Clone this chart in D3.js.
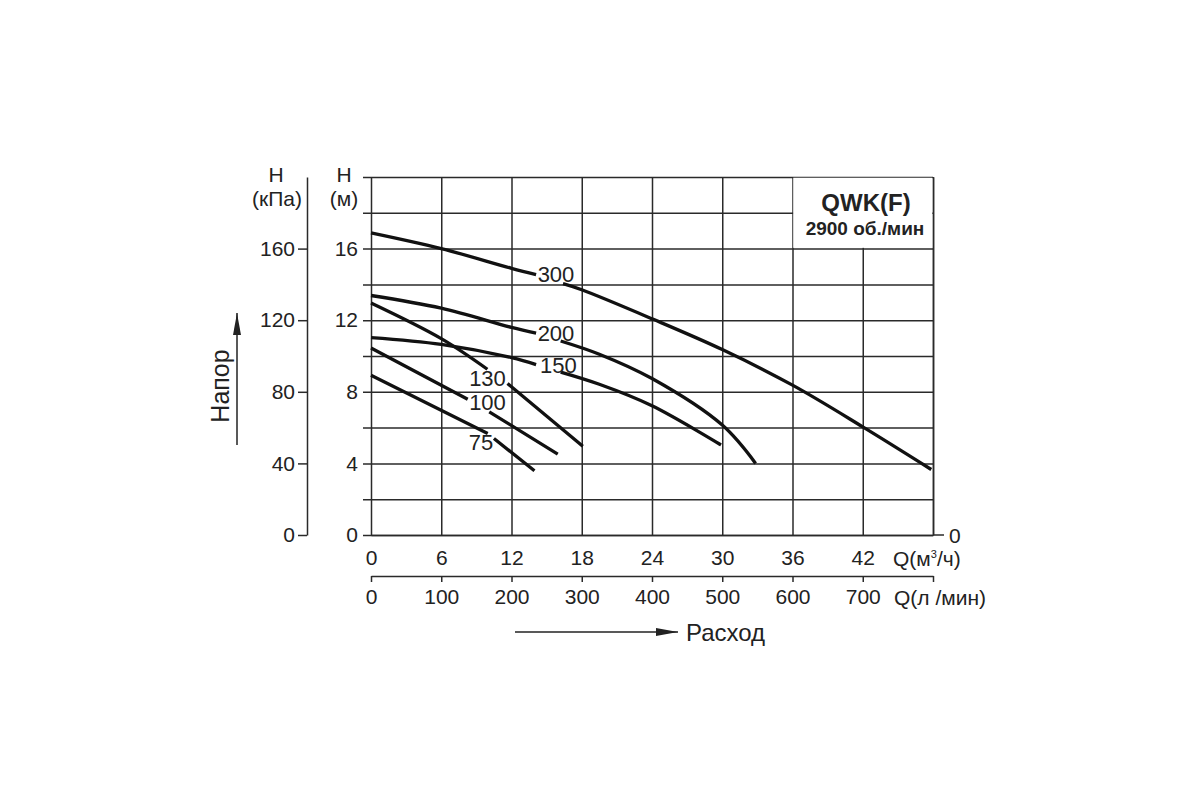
<!DOCTYPE html>
<html>
<head>
<meta charset="utf-8">
<script src="https://cdn.jsdelivr.net/npm/d3@7"></script>
<style>
  body { margin: 0; background: #fff; }
  svg text { font-family: "Liberation Sans", Arial, sans-serif; fill: #222; }
</style>
</head>
<body>
<div class="chart"></div>
<script>
// --- Data ---
const curveNames = ["300", "200", "150", "130", "100", "75"];
// flow Q (m3/h) and head H (m); null = gap where the label sits
const q300 = [0, 6, 12, 14.1, null, 16.4, 18, 24, 30, 36, 42, 47.85];
const h300 = [16.88, 16.0, 14.9, 14.55, null, 14.04, 13.7, 12.08, 10.36, 8.37, 6.04, 3.66];
const q200 = [0, 6, 12, 14.1, null, 16.2, 19.5, 24, 30, 32.85];
const h200 = [13.38, 12.67, 11.6, 11.28, null, 10.84, 10.1, 8.74, 6.14, 4.0];
const q150 = [0, 6, 12, 14.1, null, 16.2, 19.5, 24, 29.9];
const h150 = [11.03, 10.65, 9.91, 9.52, null, 9.1, 8.42, 7.22, 5.03];
const q130 = [0, 6, 9.94, null, 11.66, 18.09];
const h130 = [12.96, 10.97, 9.26, null, 8.46, 4.96];
const q100 = [0, 8.26, null, 10.1, 15.95];
const h100 = [10.45, 7.58, null, 6.88, 4.52];
const q75 = [0, 9.97, null, 10.5, 13.96];
const h75 = [8.92, 5.67, null, 5.39, 3.59];
const labelQ = [15.8, 15.8, 16.0, 9.95, 9.95, 9.4];
const labelH = [14.58, 11.3, 9.5, 8.75, 7.4, 5.2];

// tick values
const flowTicks = [0, 6, 12, 18, 24, 30, 36, 42, 48];
const litreTicks = [0, 100, 200, 300, 400, 500, 600, 700, 800];
const headTicks = [0, 2, 4, 6, 8, 10, 12, 14, 16, 18, 20];
const kpaTicks = [0, 40, 80, 120, 160];

const curves = [[q300, h300], [q200, h200], [q150, h150], [q130, h130], [q100, h100], [q75, h75]];

// --- SVG ---
const svg = d3.select(".chart").append("svg")
    .attr("width", 1200).attr("height", 800);

// --- Scales ---
const x = d3.scaleLinear().domain([0, 48]).range([371, 933]);
const xl = d3.scaleLinear().domain([0, 800]).range([371, 933]);
const y = d3.scaleLinear().domain([0, 20]).range([535, 177]);
const yk = d3.scaleLinear().domain([0, 200]).range([535, 177]);

const gridColor = "#2a2a2a";

// --- horizontal grid + metre labels (axis sits on the right border) ---
const yAxis = svg.append("g")
    .attr("transform", "translate(933,0)")
    .call(d3.axisLeft(y)
        .tickValues(headTicks)
        .tickSize(570)
        .tickSizeOuter(0)
        .tickPadding(5)
        .tickFormat(d => d % 4 === 0 && d <= 16 ? d : ""));
yAxis.selectAll("line, path").attr("stroke", gridColor).attr("stroke-width", 1.5);
yAxis.selectAll("text").style("font-size", "21px").attr("fill", "#222");

// --- vertical grid + m3/h labels ---
const xAxis = svg.append("g")
    .attr("transform", "translate(0,535)")
    .call(d3.axisBottom(x)
        .tickValues(flowTicks)
        .tickSize(-358)
        .tickSizeOuter(0)
        .tickPadding(15)
        .tickFormat(d => d === 48 ? "" : d));
xAxis.selectAll("line, path").attr("stroke", gridColor).attr("stroke-width", 1.5);
xAxis.selectAll("text").style("font-size", "21px").attr("fill", "#222");

// right "0" tick
svg.append("line")
    .attr("x1", x(48)).attr("x2", x(48) + 11)
    .attr("y1", y(0)).attr("y2", y(0))
    .attr("stroke", gridColor).attr("stroke-width", 1.5);
svg.append("text")
    .attr("x", 949).attr("y", y(0) + 7.5)
    .style("font-size", "21px").text("0");

// --- l/min axis ---
const lAxis = svg.append("g")
    .attr("transform", "translate(0,576)")
    .call(d3.axisBottom(xl)
        .tickValues(litreTicks)
        .tickSize(6)
        .tickSizeOuter(0)
        .tickPadding(7)
        .tickFormat(d => d === 800 ? "" : d));
lAxis.selectAll("line, path").attr("stroke", gridColor).attr("stroke-width", 1.5);
lAxis.selectAll("text").style("font-size", "21px").attr("fill", "#222");

// --- kPa axis ---
const kAxis = svg.append("g")
    .attr("transform", "translate(307,0)")
    .call(d3.axisLeft(yk)
        .tickValues(kpaTicks)
        .tickSize(9)
        .tickSizeOuter(0)
        .tickPadding(3));
kAxis.selectAll("line, path").attr("stroke", gridColor).attr("stroke-width", 1.5);
kAxis.selectAll("text").style("font-size", "21px").attr("fill", "#222");

// --- title box (covers grid inside) ---
svg.append("rect")
    .attr("x", x(36) + 0.75).attr("y", y(20) + 0.75)
    .attr("width", x(48) - x(36) - 1.5).attr("height", y(16) - y(20) - 1.5)
    .attr("fill", "#fff");
svg.append("text")
    .attr("x", 866).attr("y", 211)
    .attr("text-anchor", "middle")
    .style("font-size", "24px").style("font-weight", "bold")
    .text("QWK(F)");
svg.append("text")
    .attr("x", 865).attr("y", 235)
    .attr("text-anchor", "middle")
    .style("font-size", "19px").style("font-weight", "bold")
    .text("2900 об./мин");

// --- pump curves ---
const line = d3.line()
    .defined(d => d[0] !== null)
    .x(d => x(d[0]))
    .y(d => y(d[1]))
    .curve(d3.curveCatmullRom.alpha(0.5));

svg.selectAll("path.curve")
    .data(curves)
    .join("path")
    .attr("class", "curve")
    .attr("d", c => line(c[0].map((q, i) => [q, c[1][i]])))
    .attr("fill", "none")
    .attr("stroke", "#111")
    .attr("stroke-width", 3.3)
    .attr("stroke-linecap", "butt");

svg.selectAll("text.curve-label")
    .data(curveNames)
    .join("text")
    .attr("class", "curve-label")
    .attr("x", (d, i) => x(labelQ[i]))
    .attr("y", (d, i) => y(labelH[i]))
    .attr("dy", "0.36em")
    .attr("text-anchor", "middle")
    .style("font-size", "22px")
    .text(d => d);

// --- axis captions ---
svg.append("text").attr("x", 276).attr("y", 182).attr("text-anchor", "middle")
    .style("font-size", "21px").text("H");
svg.append("text").attr("x", 277).attr("y", 206).attr("text-anchor", "middle")
    .style("font-size", "21px").text("(кПа)");
svg.append("text").attr("x", 344).attr("y", 182).attr("text-anchor", "middle")
    .style("font-size", "21px").text("H");
svg.append("text").attr("x", 344).attr("y", 206).attr("text-anchor", "middle")
    .style("font-size", "21px").text("(м)");

const qm = svg.append("text").attr("x", 893).attr("y", 566)
    .style("font-size", "21px");
qm.append("tspan").text("Q(м");
qm.append("tspan").attr("dy", -8).style("font-size", "11px").text("3");
qm.append("tspan").attr("dy", 8).text("/ч)");

svg.append("text").attr("x", 894).attr("y", 605)
    .style("font-size", "21px").text("Q(л /мин)");

// --- Напор / Расход arrows ---
const defs = svg.append("defs");
defs.append("marker")
    .attr("id", "arrowH")
    .attr("viewBox", "0 0 22 10")
    .attr("refX", 22).attr("refY", 5)
    .attr("markerWidth", 22).attr("markerHeight", 10)
    .attr("markerUnits", "userSpaceOnUse")
    .attr("orient", "auto")
    .append("path").attr("d", "M0,1 L22,5 L0,9 Z").attr("fill", "#222");

svg.append("line")
    .attr("x1", 237).attr("y1", 445).attr("x2", 237).attr("y2", 313)
    .attr("stroke", "#222").attr("stroke-width", 1.5)
    .attr("marker-end", "url(#arrowH)");
svg.append("text")
    .attr("transform", "translate(229,386) rotate(-90)")
    .attr("text-anchor", "middle")
    .style("font-size", "25px")
    .text("Напор");

svg.append("line")
    .attr("x1", 515).attr("y1", 632).attr("x2", 678).attr("y2", 632)
    .attr("stroke", "#222").attr("stroke-width", 1.5)
    .attr("marker-end", "url(#arrowH)");
svg.append("text")
    .attr("x", 686).attr("y", 641)
    .style("font-size", "24px")
    .text("Расход");
</script>
</body>
</html>
